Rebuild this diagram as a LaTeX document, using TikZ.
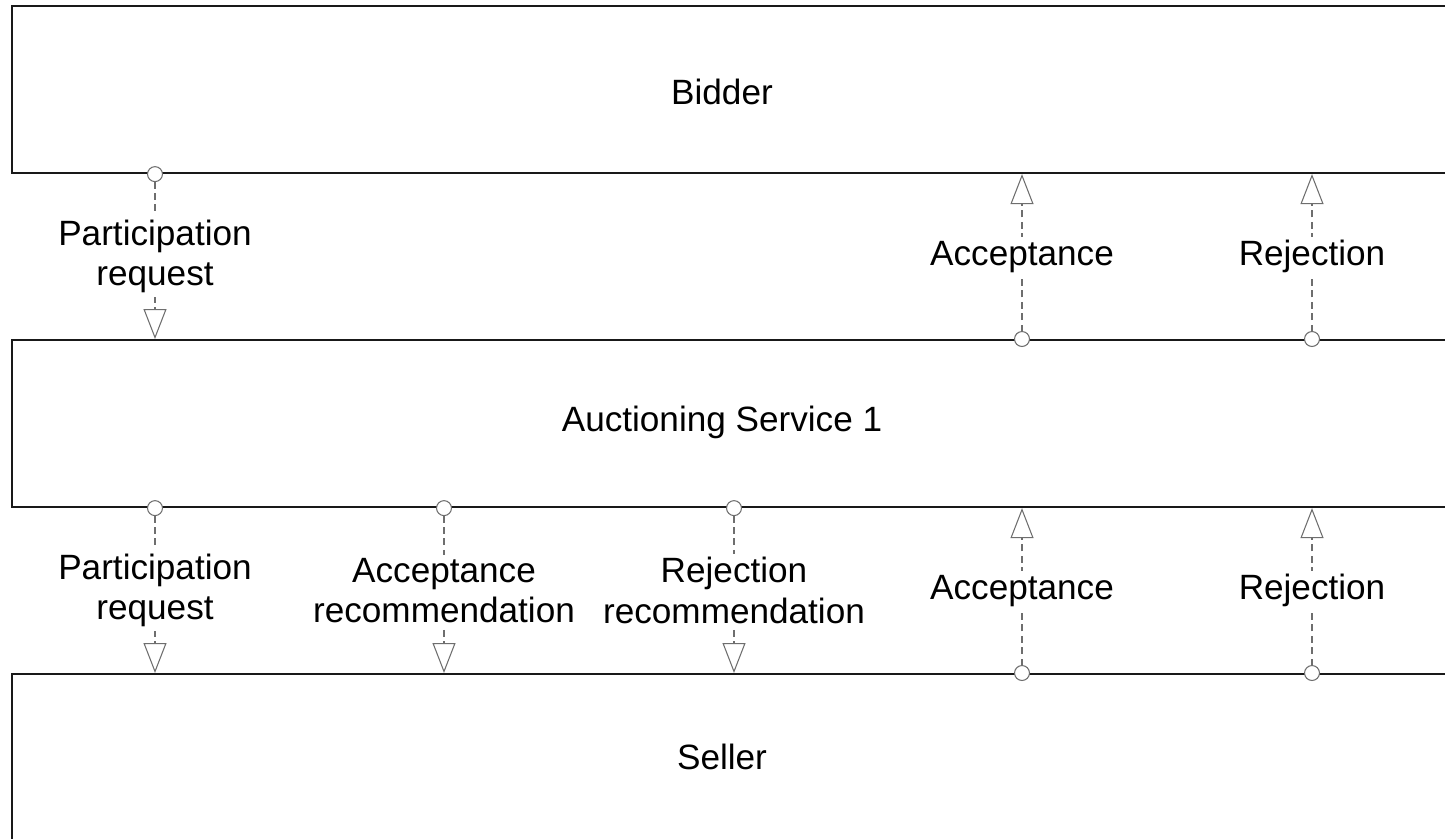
\documentclass[tikz,border=0pt]{standalone}
\usepackage{fontspec}
\setmainfont{Liberation Sans}
\usepackage{xcolor}
\usepackage{tikz}
\usetikzlibrary{arrows.meta, positioning}
\definecolor{lanecolor}{RGB}{25, 25, 25}
\definecolor{flowcolor}{RGB}{110, 110, 110}

\begin{document}
\begin{tikzpicture}[
    lane/.style={draw=lanecolor, line width=1.2pt, fill=white, anchor=north west, minimum width=30cm, minimum height=3.34cm, inner sep=0pt},
    title/.style={font=\fontsize{20}{23}\selectfont},
    msg/.style={fill=white, inner sep=2pt, align=center, font=\fontsize{20}{23}\selectfont},
    flow/.style={draw=flowcolor, line width=0.6pt, dash pattern=on 4pt off 2.5pt, shorten <=-0.16cm,
        {Circle[open, length=0.32cm, fill=white]}-{Triangle[open, length=0.6cm, width=0.46cm, fill=white]}}
]
    \useasboundingbox (0,0) rectangle (28.9,-16.76);
    \clip (0,0) rectangle (28.9,-16.76);

    % Lanes
    \node[lane] (bidder) at (0.22, -0.1) {};
    \node[title] (biddertext) at (14.44, -1.84) {Bidder};

    \node[lane] (auction) at (0.22, -6.78) {};
    \node[title] (auctiontext) at (14.44, -8.44) {Auctioning Service 1};

    \node[lane] (seller) at (0.22, -13.46) {};
    \node[title] (sellertext) at (14.44, -15.14) {Seller};

    % Message columns
    \coordinate (colA) at (3.10, 0);
    \coordinate (colB) at (8.88, 0);
    \coordinate (colC) at (14.68, 0);
    \coordinate (colD) at (20.44, 0);
    \coordinate (colE) at (26.24, 0);

    % Bidder <-> Auctioning Service
    \draw[flow] (bidder.south -| colA) -- node[msg] {Participation\\request} (auction.north -| colA);
    \draw[flow] (auction.north -| colD) -- node[msg] {Acceptance} (bidder.south -| colD);
    \draw[flow] (auction.north -| colE) -- node[msg] {Rejection} (bidder.south -| colE);

    % Auctioning Service <-> Seller
    \draw[flow] (auction.south -| colA) -- node[msg] {Participation\\request} (seller.north -| colA);
    \draw[flow] (auction.south -| colB) -- node[msg] {Acceptance\\recommendation} (seller.north -| colB);
    \draw[flow] (auction.south -| colC) -- node[msg] {Rejection\\recommendation} (seller.north -| colC);
    \draw[flow] (seller.north -| colD) -- node[msg] {Acceptance} (auction.south -| colD);
    \draw[flow] (seller.north -| colE) -- node[msg] {Rejection} (auction.south -| colE);

\end{tikzpicture}
\end{document}
